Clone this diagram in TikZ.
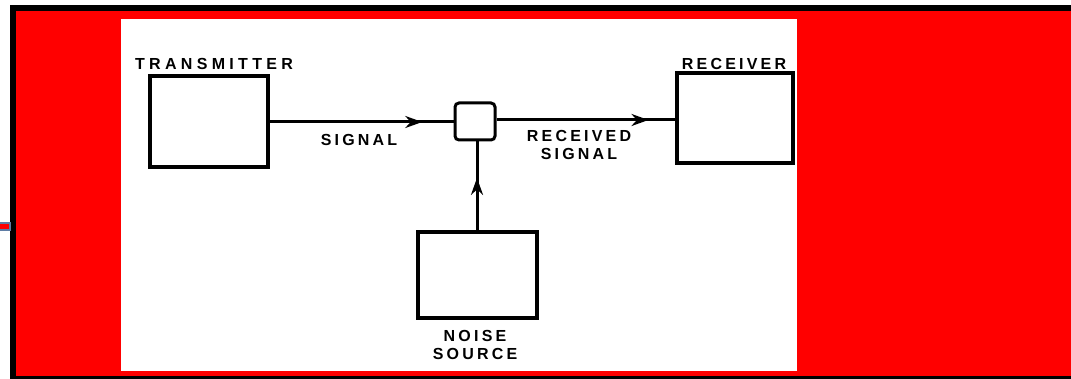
\documentclass[tikz,border=0pt]{standalone}
\usepackage{fontspec}
\setmainfont{Liberation Sans}
\usetikzlibrary{arrows.meta, decorations.markings}

\definecolor{rojo}{RGB}{255,0,0}
\definecolor{azulgris}{RGB}{95,125,165}

\tikzset{
  bloque/.style={draw, line width=3.4pt, minimum width=116pt, minimum height=88pt, inner sep=0pt},
  etiqueta/.style={font=\bfseries\addfontfeature{LetterSpace=20}\fontsize{16}{18}\selectfont, inner sep=0pt, align=center},
  conector/.style={line width=3pt, postaction={decorate},
    decoration={markings, mark=at position #1 with {\arrow{Stealth[length=17pt, width=12pt]}}}}
}

\begin{document}
\begin{tikzpicture}[x=1pt, y=-1pt]
  \useasboundingbox (0,0) rectangle (1071,379);
  % fondo rojo con marco negro
  \fill[white] (0,0) rectangle (1071,379);
  \fill[rojo] (16,11) rectangle (1071,377);
  \draw[line width=6pt] (13,379) -- (13,8) -- (1071,8);
  \draw[line width=3pt] (10,377.5) -- (1071,377.5);
  % barrita de la izquierda
  \filldraw[fill=rojo, draw=azulgris, line width=2.5pt] (-2,223) rectangle (10,230);
  % hoja blanca del diagrama
  \fill[white] (121,19) rectangle (797,371);
  % bloques
  \node[bloque, minimum width=118pt, minimum height=91pt] (tx) at (209,121.5) {};
  \node[bloque, minimum width=116pt, minimum height=90pt] (rx) at (735,118) {};
  \node[bloque, minimum width=119pt, minimum height=86pt] (ruido) at (477.5,275) {};
  \node[draw, line width=3pt, rounded corners=4pt, minimum width=40pt, minimum height=37pt, inner sep=0pt] (suma) at (475,121.5) {};
  % etiquetas
  \node[etiqueta, font=\bfseries\addfontfeature{LetterSpace=27}\fontsize{16}{18}\selectfont] (ltx) at (214,64) {TRANSMITTER};
  \node[etiqueta] (lrx) at (734,64) {RECEIVER};
  \node[etiqueta] (lsig) at (359,140) {SIGNAL};
  \node[etiqueta] (lrec) at (579,144.5) {RECEIVED\\SIGNAL};
  \node[etiqueta] (lruido) at (475,344.5) {NOISE\\SOURCE};
  % conexiones
  \draw[conector=0.83] (tx.east |- 0,122) -- (suma.west |- 0,122);
  \draw[conector=0.85] (suma.east |- 0,120) -- (rx.west |- 0,120);
  \draw[conector=0.59] (ruido.north -| 477,0) -- (suma.south -| 477,0);
\end{tikzpicture}
\end{document}
